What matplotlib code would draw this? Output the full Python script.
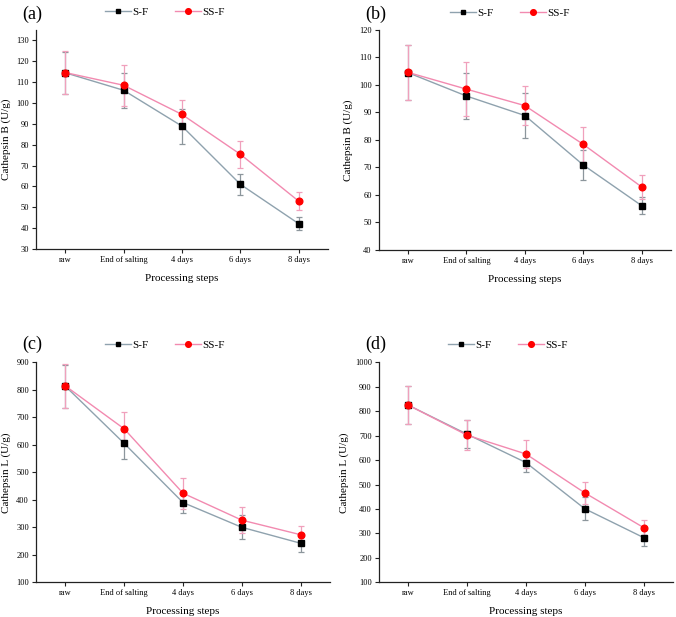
import matplotlib
matplotlib.use("Agg")
import matplotlib.pyplot as plt

plt.rcParams['font.family'] = ['Liberation Serif', 'DejaVu Serif']

categories = ["raw", "End of salting", "4 days", "6 days", "8 days"]

# Panel (a) Cathepsin B
a_sf = [114.5, 106.1, 88.9, 61.0, 42.1]
a_sf_err = [10.0, 8.3, 8.4, 5.0, 3.2]
a_ssf = [114.6, 108.5, 94.5, 75.4, 52.9]
a_ssf_err = [10.2, 9.9, 6.8, 6.5, 4.2]

# Panel (b) Cathepsin B
b_sf = [104.5, 96.0, 88.9, 70.9, 56.1]
b_sf_err = [10.0, 8.2, 8.3, 5.3, 3.0]
b_ssf = [104.6, 98.5, 92.5, 78.4, 62.9]
b_ssf_err = [10.1, 9.8, 7.0, 6.5, 4.3]

# Panel (c) Cathepsin L
c_sf = [813, 605, 390, 300, 242]
c_sf_err = [79, 58, 39, 44, 33]
c_ssf = [814, 658, 424, 326, 273]
c_ssf_err = [79, 60, 57, 47, 33]

# Panel (d) Cathepsin L
d_sf = [825, 706, 590, 401, 283]
d_sf_err = [79, 58, 37, 46, 33]
d_ssf = [825, 702, 625, 466, 324]
d_ssf_err = [79, 62, 56, 45, 32]

panels = [
    ("(a)", "Cathepsin B (U/g)", a_sf, a_sf_err, a_ssf, a_ssf_err, (30, 135), list(range(30, 131, 10))),
    ("(b)", "Cathepsin B (U/g)", b_sf, b_sf_err, b_ssf, b_ssf_err, (40, 120), list(range(40, 121, 10))),
    ("(c)", "Cathepsin L (U/g)", c_sf, c_sf_err, c_ssf, c_ssf_err, (100, 900), list(range(100, 901, 100))),
    ("(d)", "Cathepsin L (U/g)", d_sf, d_sf_err, d_ssf, d_ssf_err, (100, 1000), list(range(100, 1001, 100))),
]

W, H = 676, 617
positions = [
    (36, 328, 30, 249),
    (378.7, 671, 30, 250),
    (36, 330, 362.3, 582.3),
    (378.7, 673, 362.3, 582.3),
]
label_pos = [(22, 14), (365, 14), (22, 344), (365, 344)]
legend_pos = [(165, 12), (510, 13), (165, 345), (508, 345)]

sf_line = "#8fa2ae"
ssf_line = "#f28ab0"
sf_err_c = "#8c969c"
ssf_err_c = "#f0a0bc"

fig = plt.figure(figsize=(W / 100, H / 100), dpi=100)
x = list(range(len(categories)))

for (lab, ylab, sf, sfe, ssf, ssfe, ylim, yticks), (l, r, t, b), (lx, ly), (gx, gy) in zip(
        panels, positions, label_pos, legend_pos):
    ax = fig.add_axes([l / W, 1 - b / H, (r - l) / W, (b - t) / H])
    ax.errorbar(x, sf, yerr=sfe, fmt="none", ecolor=sf_err_c, elinewidth=0.9,
                capsize=2.5, capthick=0.9, zorder=2)
    ax.errorbar(x, ssf, yerr=ssfe, fmt="none", ecolor=ssf_err_c, elinewidth=0.9,
                capsize=2.5, capthick=0.9, zorder=2.1)
    ax.plot(x, sf, color=sf_line, lw=1.0, marker="s", ms=4.2,
            mfc="black", mec="black", label="S-F", zorder=3)
    ax.plot(x, ssf, color=ssf_line, lw=1.0, marker="o", ms=4.8,
            mfc="#ff0000", mec="#ff0000", label="SS-F", zorder=4)
    ax.set_xlim(-0.5, 4.5)
    ax.set_ylim(*ylim)
    ax.set_yticks(yticks)
    ax.set_xticks(x)
    ax.set_xticklabels(categories)
    ax.spines["top"].set_visible(False)
    ax.spines["right"].set_visible(False)
    for s in ("left", "bottom"):
        ax.spines[s].set_linewidth(0.9)
        ax.spines[s].set_color("#222222")
    ax.tick_params(axis="both", labelsize=6, length=3, width=0.8, color="#222222", pad=2)
    ax.set_xlabel("Processing steps", fontsize=8, labelpad=7)
    ax.set_ylabel(ylab, fontsize=8, labelpad=4)
    handles, labels = ax.get_legend_handles_labels()
    ax.legend(handles, labels, loc="center", bbox_to_anchor=(gx / W, 1 - gy / H),
              bbox_transform=fig.transFigure, markerscale=0.85,
              ncol=2, frameon=False, fontsize=8, handlelength=2.3,
              columnspacing=2.4, handletextpad=0.15, borderaxespad=0.0)
    fig.text(lx / W, 1 - ly / H, lab, fontsize=13, va="center", ha="left")

fig.savefig("out.png", dpi=100)
